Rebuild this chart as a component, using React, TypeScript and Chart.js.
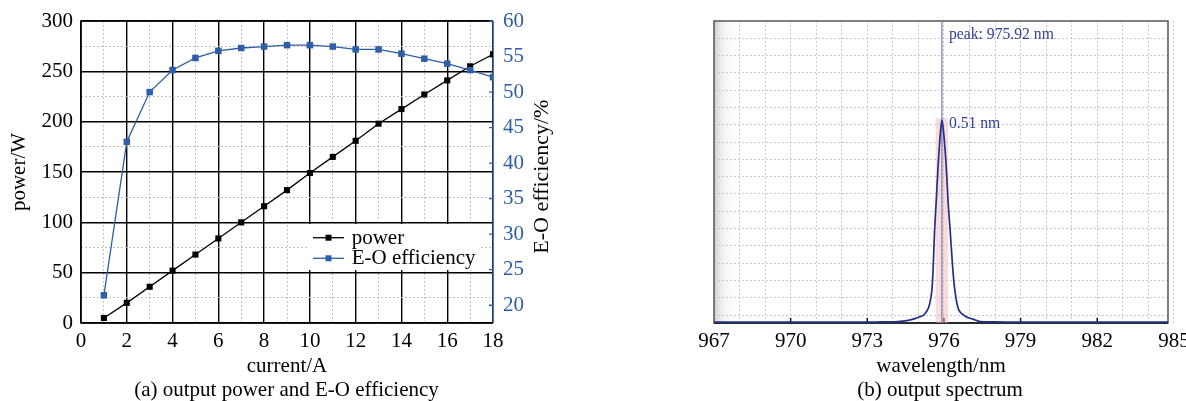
import React, { useEffect, useRef } from 'react';
import { Chart, registerables } from 'chart.js';

Chart.register(...registerables);

const FONT = "'Liberation Serif', 'Times New Roman', Times, serif";
const BLUE = '#2e5ea8';
const NAVY = '#33409a';

// ---------- (a) output power and E-O efficiency ----------
const currentA = [1, 2, 3, 4, 5, 6, 7, 8, 9, 10, 11, 12, 13, 14, 15, 16, 17, 18];
const powerW = [5, 20, 36, 52, 68, 84, 100, 116, 132, 149, 165, 181, 198, 212.5, 227, 241, 255, 267];
const efficiencyPct = [21.4, 43, 50, 53.1, 54.8, 55.8, 56.2, 56.4, 56.6, 56.6, 56.4, 56.0, 56.0, 55.4, 54.7, 54.0, 53.1, 52.1];
const currentTicks = [0, 2, 4, 6, 8, 10, 12, 14, 16, 18];
const powerTicks = [0, 50, 100, 150, 200, 250, 300];
const efficiencyTicks = [20, 25, 30, 35, 40, 45, 50, 55, 60];
const efficiencyMin = 17.5;

// ---------- (b) output spectrum ----------
const wavelengthNm = [967, 968, 969, 970, 971, 972, 973, 973.5, 974.0, 974.3, 974.6, 974.89, 975.05, 975.21, 975.31, 975.41, 975.48, 975.54, 975.58, 975.63, 975.70, 975.77, 975.86, 975.92, 975.99, 976.09, 976.16, 976.25, 976.34, 976.41, 976.54, 976.77, 977.16, 977.43, 978.0, 979, 980, 981, 982, 983, 984, 985];
const intensityAU = [0.05, 0.05, 0.05, 0.05, 0.05, 0.05, 0.05, 0.06, 0.07, 0.09, 0.15, 0.27, 0.36, 0.46, 0.65, 0.94, 1.4, 2.1, 3.25, 5.2, 7.1, 9.03, 10.97, 11.73, 10.97, 9.03, 7.1, 5.2, 3.25, 2.1, 0.94, 0.46, 0.21, 0.08, 0.06, 0.05, 0.05, 0.05, 0.05, 0.05, 0.05, 0.05];
const wavelengthTicks = [967, 970, 973, 976, 979, 982, 985];
const wavelengthMax = 984.77;
const intensityMax = 17.46;
const intensityGridOffset = 0.46;
const peakNm = 975.92;
const fwhmNm = 0.51;

function withMinor(major: number[]) {
  const out: any[] = [];
  for (let i = 0; i < major.length; i++) {
    out.push({ value: major[i] });
    if (i < major.length - 1) out.push({ value: (major[i] + major[i + 1]) / 2 });
  }
  return out;
}

const isMajor = (list: number[], v: number) => list.some((m) => Math.abs(m - v) < 1e-6);

const leftDecor = {
  id: 'leftDecor',
  beforeDatasetsDraw(chart: any) {
    const { ctx, chartArea: a, scales } = chart;
    ctx.save();
    ctx.lineWidth = 1.5;
    ctx.strokeStyle = '#000';
    ctx.beginPath();
    ctx.moveTo(a.right, a.top);
    ctx.lineTo(a.left, a.top);
    ctx.lineTo(a.left, a.bottom);
    ctx.lineTo(a.right, a.bottom);
    ctx.stroke();
    ctx.strokeStyle = BLUE;
    ctx.lineWidth = 1.3;
    ctx.beginPath();
    ctx.moveTo(a.right, a.top);
    ctx.lineTo(a.right, a.bottom);
    for (const v of efficiencyTicks) {
      const y = scales.y1.getPixelForValue(v);
      ctx.moveTo(a.right - 4, y);
      ctx.lineTo(a.right, y);
    }
    ctx.stroke();
    ctx.restore();
  },
  afterDatasetsDraw(chart: any) {
    const { ctx, chartArea: a } = chart;
    ctx.save();
    const bx = a.right - 184;
    const by = a.top + 203;
    ctx.fillStyle = '#fff';
    ctx.fillRect(bx, by, 171, 46);
    chart.data.datasets.forEach((ds: any, i: number) => {
      const ly = by + 13.7 + i * 20.6;
      ctx.strokeStyle = ds.borderColor;
      ctx.lineWidth = 1.3;
      ctx.beginPath();
      ctx.moveTo(bx + 4, ly);
      ctx.lineTo(bx + 35, ly);
      ctx.stroke();
      ctx.fillStyle = ds.backgroundColor;
      ctx.fillRect(bx + 16.5, ly - 3, 6, 6);
      ctx.fillStyle = '#000';
      ctx.font = `21px ${FONT}`;
      ctx.textAlign = 'left';
      ctx.textBaseline = 'alphabetic';
      ctx.fillText(ds.label, bx + 42.7, ly + 5.9);
    });
    ctx.restore();
  },
  afterDraw(chart: any) {
    const { ctx, chartArea: a } = chart;
    ctx.save();
    ctx.translate(548.3, (a.top + a.bottom) / 2 + 4.7);
    ctx.rotate(-Math.PI / 2);
    ctx.fillStyle = '#000';
    ctx.font = `22px ${FONT}`;
    ctx.textAlign = 'center';
    ctx.textBaseline = 'alphabetic';
    ctx.fillText('E-O efficiency/%', 0, 0);
    ctx.restore();
  },
};

const rightDecor = {
  id: 'rightDecor',
  beforeDraw(chart: any) {
    const { ctx, chartArea: a } = chart;
    ctx.save();
    const g = ctx.createLinearGradient(a.left, 0, a.left + 24, 0);
    g.addColorStop(0, 'rgba(150,150,150,0.45)');
    g.addColorStop(0.4, 'rgba(190,190,190,0.2)');
    g.addColorStop(1, 'rgba(255,255,255,0)');
    ctx.fillStyle = g;
    ctx.fillRect(a.left, a.top, 24, a.bottom - a.top);
    ctx.restore();
  },
  beforeDatasetsDraw(chart: any) {
    const { ctx, chartArea: a, scales } = chart;
    ctx.save();
    ctx.strokeStyle = '#555';
    ctx.lineWidth = 1.5;
    ctx.strokeRect(a.left, a.top, a.right - a.left, a.bottom - a.top);
    ctx.strokeStyle = '#111';
    ctx.beginPath();
    ctx.moveTo(a.left, a.bottom);
    ctx.lineTo(a.right, a.bottom);
    for (const v of wavelengthTicks) {
      const x = scales.x.getPixelForValue(v);
      if (x <= a.left + 1 || x >= a.right - 1) continue;
      ctx.moveTo(x, a.bottom);
      ctx.lineTo(x, a.bottom - 5);
    }
    ctx.stroke();
    ctx.restore();
  },
  afterDatasetsDraw(chart: any) {
    const { ctx, chartArea: a, scales } = chart;
    const px = scales.x.getPixelForValue(peakNm);
    const py = scales.y.getPixelForValue(Math.max(...intensityAU));
    ctx.save();
    ctx.fillStyle = NAVY;
    ctx.font = `15.7px ${FONT}`;
    ctx.textAlign = 'left';
    ctx.textBaseline = 'alphabetic';
    ctx.fillText(`peak: ${peakNm.toFixed(2)} nm`, px + 7, a.top + 18.3);
    ctx.fillText(`${fwhmNm.toFixed(2)} nm`, px + 7, py + 7.7);
    ctx.restore();
  },
};

function leftConfig(): any {
  const tickFont = { family: FONT, size: 21 };
  return {
    type: 'line',
    data: {
      datasets: [
        {
          label: 'power',
          data: currentA.map((x, i) => ({ x, y: powerW[i] })),
          yAxisID: 'y',
          borderColor: '#000',
          backgroundColor: '#000',
          borderWidth: 1.3,
          pointStyle: 'rect',
          pointRadius: 4.3,
          pointBorderWidth: 0,
          order: 2,
        },
        {
          label: 'E-O efficiency',
          data: currentA.map((x, i) => ({ x, y: efficiencyPct[i] })),
          yAxisID: 'y1',
          borderColor: BLUE,
          backgroundColor: BLUE,
          borderWidth: 1.3,
          pointStyle: 'rect',
          pointRadius: 4.6,
          pointBorderWidth: 0,
          order: 1,
        },
      ],
    },
    options: {
      animation: false,
      responsive: false,
      layout: { padding: { top: 21, left: 0, right: 0, bottom: 0 } },
      plugins: { legend: { display: false }, tooltip: { enabled: false } },
      scales: {
        x: {
          type: 'linear',
          min: currentTicks[0],
          max: currentTicks[currentTicks.length - 1],
          afterBuildTicks: (s: any) => { s.ticks = withMinor(currentTicks); },
          afterFit: (s: any) => { s.height = 78; s.paddingLeft = 0; s.paddingRight = 0; },
          ticks: {
            autoSkip: false,
            maxRotation: 0,
            padding: 6,
            color: '#000',
            font: tickFont,
            callback: (v: number) => (isMajor(currentTicks, v) ? String(v) : ''),
          },
          grid: {
            drawTicks: false,
            color: (c: any) => (c.tick && isMajor(currentTicks, c.tick.value) ? '#000' : '#c2c2c2'),
            lineWidth: (c: any) => (c.tick && isMajor(currentTicks, c.tick.value) ? 1.4 : 1),
          },
          border: { display: false, dash: (c: any) => (c.tick && !isMajor(currentTicks, c.tick.value) ? [2, 2] : []) },
          title: { display: true, text: 'current/A', color: '#000', font: tickFont, padding: { top: 0, bottom: 22 } },
        },
        y: {
          type: 'linear',
          position: 'left',
          min: powerTicks[0],
          max: powerTicks[powerTicks.length - 1],
          afterBuildTicks: (s: any) => { s.ticks = withMinor(powerTicks); },
          afterFit: (s: any) => { s.width = 81; s.paddingTop = 0; s.paddingBottom = 0; },
          ticks: {
            autoSkip: false,
            padding: 8,
            color: '#000',
            font: tickFont,
            callback: (v: number) => (isMajor(powerTicks, v) ? String(v) : ''),
          },
          grid: {
            drawTicks: false,
            color: (c: any) => (c.tick && isMajor(powerTicks, c.tick.value) ? '#000' : '#c2c2c2'),
            lineWidth: (c: any) => (c.tick && isMajor(powerTicks, c.tick.value) ? 1.4 : 1),
          },
          border: { display: false, dash: (c: any) => (c.tick && !isMajor(powerTicks, c.tick.value) ? [2, 2] : []) },
          title: { display: true, text: 'power/W', color: '#000', font: tickFont, padding: { top: 7, bottom: 0 } },
        },
        y1: {
          type: 'linear',
          position: 'right',
          min: efficiencyMin,
          max: efficiencyTicks[efficiencyTicks.length - 1],
          afterBuildTicks: (s: any) => { s.ticks = efficiencyTicks.map((value) => ({ value })); },
          afterFit: (s: any) => { s.width = 67; s.paddingTop = 0; s.paddingBottom = 0; },
          ticks: { autoSkip: false, padding: 10, color: BLUE, font: tickFont },
          grid: { drawOnChartArea: false, drawTicks: false },
          border: { display: false },
        },
      },
    },
    plugins: [leftDecor],
  };
}

function rightConfig(): any {
  const tickFont = { family: FONT, size: 21 };
  const peakTop = Math.max(...intensityAU) + 0.12;
  const xGrid: any[] = [];
  for (let v = wavelengthTicks[0]; v <= wavelengthTicks[wavelengthTicks.length - 1]; v += 1) xGrid.push({ value: v });
  const yGrid: any[] = [];
  for (let v = intensityGridOffset; v < intensityMax - 0.5; v += 1) yGrid.push({ value: v });
  return {
    type: 'line',
    data: {
      datasets: [
        {
          label: 'spectrum',
          data: wavelengthNm.map((x, i) => ({ x, y: intensityAU[i] })),
          borderColor: '#22308a',
          borderWidth: 1.7,
          pointRadius: 0,
          cubicInterpolationMode: 'monotone',
          order: 1,
        },
        {
          label: 'peak',
          data: [{ x: peakNm, y: 0 }, { x: peakNm, y: intensityMax }],
          borderColor: 'rgba(130,135,180,0.9)',
          borderWidth: 1.5,
          pointRadius: 0,
          order: 2,
        },
        {
          label: 'FWHM',
          data: [{ x: peakNm - fwhmNm / 2, y: peakTop }, { x: peakNm + fwhmNm / 2, y: peakTop }],
          borderWidth: 0,
          borderColor: 'rgba(0,0,0,0)',
          backgroundColor: 'rgba(242,180,180,0.45)',
          fill: 'origin',
          pointRadius: 0,
          order: 3,
        },
      ],
    },
    options: {
      animation: false,
      responsive: false,
      layout: { padding: { top: 21, left: 0, right: 18, bottom: 0 } },
      plugins: { legend: { display: false }, tooltip: { enabled: false } },
      scales: {
        x: {
          type: 'linear',
          min: wavelengthTicks[0],
          max: wavelengthMax,
          afterBuildTicks: (s: any) => { s.ticks = xGrid; },
          afterFit: (s: any) => { s.height = 78; s.paddingLeft = 0; s.paddingRight = 0; },
          ticks: {
            autoSkip: false,
            maxRotation: 0,
            padding: 6,
            color: '#000',
            font: tickFont,
            callback: (v: number) => (isMajor(wavelengthTicks, v) ? String(v) : ''),
          },
          grid: { drawTicks: false, color: '#c9c9c9', lineWidth: 1 },
          border: { display: false, dash: [2, 2] },
          title: { display: true, text: 'wavelength/nm', color: '#000', font: tickFont, padding: { top: 0, bottom: 22 } },
        },
        y: {
          type: 'linear',
          min: 0,
          max: intensityMax,
          afterBuildTicks: (s: any) => { s.ticks = yGrid; },
          afterFit: (s: any) => { s.width = 154; s.paddingTop = 0; s.paddingBottom = 0; },
          ticks: { display: false },
          grid: { drawTicks: false, color: '#c9c9c9', lineWidth: 1 },
          border: { display: false, dash: [2, 2] },
        },
      },
    },
    plugins: [rightDecor],
  };
}

export default function App() {
  const leftRef = useRef<HTMLCanvasElement>(null);
  const rightRef = useRef<HTMLCanvasElement>(null);
  useEffect(() => {
    const c1 = new Chart(leftRef.current as HTMLCanvasElement, leftConfig());
    const c2 = new Chart(rightRef.current as HTMLCanvasElement, rightConfig());
    return () => {
      c1.destroy();
      c2.destroy();
    };
  }, []);
  const caption: React.CSSProperties = {
    position: 'absolute',
    top: 377,
    fontFamily: FONT,
    fontSize: 21,
    lineHeight: '25px',
    textAlign: 'center',
    color: '#000',
    whiteSpace: 'nowrap',
  };
  return (
    <div style={{ position: 'absolute', left: 0, top: 0, width: 1186, height: 401, background: '#fff', overflow: 'hidden' }}>
      <canvas ref={leftRef} width={560} height={401} style={{ position: 'absolute', left: 0, top: 0 }} />
      <canvas ref={rightRef} width={626} height={401} style={{ position: 'absolute', left: 560, top: 0 }} />
      <div style={{ ...caption, left: 0, width: 573 }}>(a) output power and E-O efficiency</div>
      <div style={{ ...caption, left: 700, width: 480 }}>(b) output spectrum</div>
    </div>
  );
}
